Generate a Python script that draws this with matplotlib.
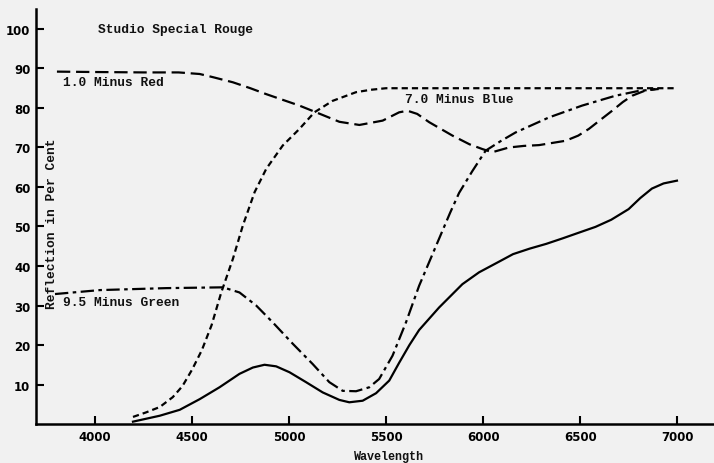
import matplotlib
matplotlib.use("Agg")
import matplotlib.pyplot as plt

# values (wavelength, per cent reflection)
solid_x = [4195, 4333, 4436, 4539, 4641, 4744, 4813, 4873, 4933, 5002, 5087, 5173, 5259,
           5310, 5379, 5448, 5516, 5567, 5620, 5670, 5773, 5893, 5979, 6082, 6154, 6240,
           6325, 6410, 6497, 6579, 6660, 6750, 6810, 6870, 6930, 6999]
solid_y = [0.6, 2.1, 3.6, 6.3, 9.3, 12.7, 14.3, 15.0, 14.6, 13.1, 10.6, 8.0, 6.1,
           5.5, 5.9, 7.8, 11.0, 15.5, 20.0, 23.8, 29.5, 35.4, 38.4, 41.1, 43.0, 44.4,
           45.6, 47.0, 48.5, 49.9, 51.7, 54.4, 57.2, 59.6, 60.9, 61.6]

red_x = [3803, 4000, 4250, 4430, 4539, 4607, 4710, 4800, 4882, 5053, 5139, 5259, 5362,
         5482, 5567, 5610, 5660, 5722, 5842, 5930, 5996, 6047, 6090, 6133, 6210, 6288,
         6425, 6490, 6545, 6610, 6665, 6720, 6768, 6830, 6888]
red_y = [89.2, 89.1, 89.0, 89.0, 88.6, 87.8, 86.5, 85.0, 83.5, 80.6, 78.9, 76.5, 75.7,
         76.8, 78.9, 79.3, 78.5, 76.4, 73.0, 70.8, 69.6, 68.8, 69.4, 70.0, 70.4, 70.6,
         71.7, 73.0, 74.7, 77.2, 79.3, 81.5, 83.1, 84.3, 84.8]

blue_x = [4195, 4260, 4333, 4400, 4450, 4500, 4550, 4600, 4650, 4710, 4761, 4822, 4882,
          4967, 5053, 5130, 5224, 5345, 5420, 5499, 6000, 6500, 7000]
blue_y = [1.8, 2.9, 4.3, 6.8, 9.6, 13.8, 18.7, 25.0, 33.3, 41.8, 50.2, 58.7, 64.6,
          70.5, 74.7, 78.9, 81.8, 84.0, 84.6, 85.0, 85.0, 85.0, 85.0]

green_x = [3793, 4024, 4367, 4659, 4744, 4830, 4916, 5019, 5121, 5207, 5276, 5345, 5413,
           5464, 5533, 5602, 5670, 5765, 5830, 5876, 5944, 6013, 6090, 6167, 6339, 6510,
           6682, 6800, 6905]
green_y = [32.9, 33.9, 34.4, 34.6, 33.3, 30.0, 25.7, 20.3, 15.2, 10.6, 8.4, 8.3, 9.3,
           11.4, 17.3, 25.7, 35.0, 46.0, 53.5, 58.5, 64.0, 69.2, 71.6, 73.8, 77.6, 80.6,
           83.1, 84.3, 84.8]

x_ticks = [4000, 4500, 5000, 5500, 6000, 6500, 7000]
y_ticks = [10, 20, 30, 40, 50, 60, 70, 80, 90, 100]

BG = "#f1f1f1"
MONO = "Liberation Mono"

fig = plt.figure(figsize=(7.14, 4.64), dpi=100, facecolor=BG)
ax = fig.add_axes([0.0504, 0.084, 0.9496, 0.894], facecolor=BG)

lw = 1.6
ax.plot(solid_x, solid_y, color="black", lw=lw, solid_joinstyle="round")
ax.plot(red_x, red_y, color="black", lw=lw, dashes=(6, 2.6))
ax.plot(blue_x, blue_y, color="black", lw=lw, dashes=(2.8, 1.8))
ax.plot(green_x, green_y, color="black", lw=lw, dashes=(6, 2, 1.6, 2))

ax.set_xlim(3695, 7190)
ax.set_ylim(0, 105)
ax.set_xticks(x_ticks)
ax.set_yticks(y_ticks)
ax.set_xticklabels([str(t) for t in x_ticks], fontsize=8.5, fontweight="bold")
ax.set_yticklabels([str(t) for t in y_ticks], fontsize=8.5, fontweight="bold")
ax.tick_params(axis="both", direction="in", width=1.5, length=6, pad=4)

for side in ["top", "right"]:
    ax.spines[side].set_visible(False)
for side in ["left", "bottom"]:
    ax.spines[side].set_linewidth(1.8)

txt = dict(family=MONO, fontweight="bold", fontsize=9.3, color="#111111")
ax.text(4014, 100, "Studio Special Rouge", va="center", ha="left", **txt)
ax.text(3834, 86.6, "1.0 Minus Red", va="center", ha="left", **txt)
ax.text(5597, 82.3, "7.0 Minus Blue", va="center", ha="left", **txt)
ax.text(3834, 31, "9.5 Minus Green", va="center", ha="left", **txt)
ax.text(3777, 51, "Reflection in Per Cent", rotation=90, va="center", ha="center", **txt)

fig.text(389 / 714, 1 - 457 / 464, "Wavelength", ha="center", va="center",
         family=MONO, fontweight="bold", fontsize=8.5, color="#111111")

fig.savefig("out.png", dpi=100, facecolor=BG)
